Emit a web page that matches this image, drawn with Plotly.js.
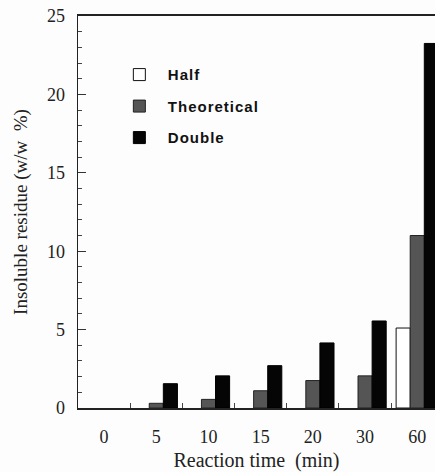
<!DOCTYPE html>
<html>
<head>
<meta charset="utf-8">
<script src="https://cdn.plot.ly/plotly-3.0.1.min.js"></script>
<style>
html,body{margin:0;padding:0;background:#fff;overflow:hidden;}
#chart{width:435px;height:472px;}
.legendtext{letter-spacing:1px;}
</style>
</head>
<body>
<div id="chart"></div>
<script>
var categories = ['0', '5', '10', '15', '20', '30', '60'];
var halfValues = [null, null, null, null, null, null, 5.1];
var theoreticalValues = [null, 0.3, 0.55, 1.1, 1.75, 2.05, 11.0];
var doubleValues = [null, 1.55, 2.05, 2.7, 4.15, 5.55, 23.25];
var yTickVals = [0, 5, 10, 15, 20, 25];

var serif = 'Liberation Serif, Times New Roman, serif';

var traces = [
  {type: 'bar', name: 'Half', x: categories, y: halfValues, legendgroup: 'a',
   marker: {color: '#ffffff', line: {color: '#111', width: 1}}},
  {type: 'bar', name: 'Theoretical', x: categories, y: theoreticalValues, legendgroup: 'b',
   marker: {color: '#555555', line: {color: '#222', width: 1}}},
  {type: 'bar', name: 'Double', x: categories, y: doubleValues, legendgroup: 'c',
   marker: {color: '#050505', line: {color: '#000', width: 1}}}
];

var layout = {
  width: 435, height: 472,
  margin: {l: 78, r: 0, t: 16, b: 64, pad: 0},
  paper_bgcolor: '#fdfdfd', plot_bgcolor: '#fdfdfd',
  barmode: 'group', bargap: 0.19, bargroupgap: 0,
  showlegend: true,
  legend: {
    x: 0.092, y: 0.892, xanchor: 'left', yanchor: 'top',
    bgcolor: 'rgba(0,0,0,0)', borderwidth: 0,
    itemwidth: 47, tracegroupgap: 9, traceorder: 'grouped',
    font: {family: 'Liberation Sans, Arial, sans-serif', size: 15, color: '#111', weight: 'bold'}
  },
  xaxis: {
    type: 'category', range: [-0.5, 6.34],
    showline: true, linecolor: '#222', linewidth: 2, mirror: true,
    ticks: 'inside', tickson: 'boundaries', ticklen: 5, tickcolor: '#444', tickwidth: 1,
    ticklabelstandoff: 11,
    showgrid: false, zeroline: false,
    tickfont: {family: serif, size: 18, color: '#222'},
    title: {text: 'Reaction time\u00a0 (min)', font: {family: serif, size: 20, color: '#222'}, standoff: 8}
  },
  yaxis: {
    range: [0, 25], tickvals: yTickVals,
    showline: true, linecolor: '#222', linewidth: 1.5,
    ticks: 'inside', ticklen: 8, tickcolor: '#333', tickwidth: 1,
    minor: {dtick: 1, ticks: 'inside', ticklen: 4, tickcolor: '#444', tickwidth: 1},
    ticklabelstandoff: 8,
    showgrid: false, zeroline: false,
    tickfont: {family: serif, size: 18, color: '#222'},
    title: {text: 'Insoluble residue (w/w\u00a0 %)', font: {family: serif, size: 19, color: '#222'}, standoff: 14}
  }
};

Plotly.newPlot('chart', traces, layout, {displayModeBar: false, staticPlot: true});
</script>
</body>
</html>
